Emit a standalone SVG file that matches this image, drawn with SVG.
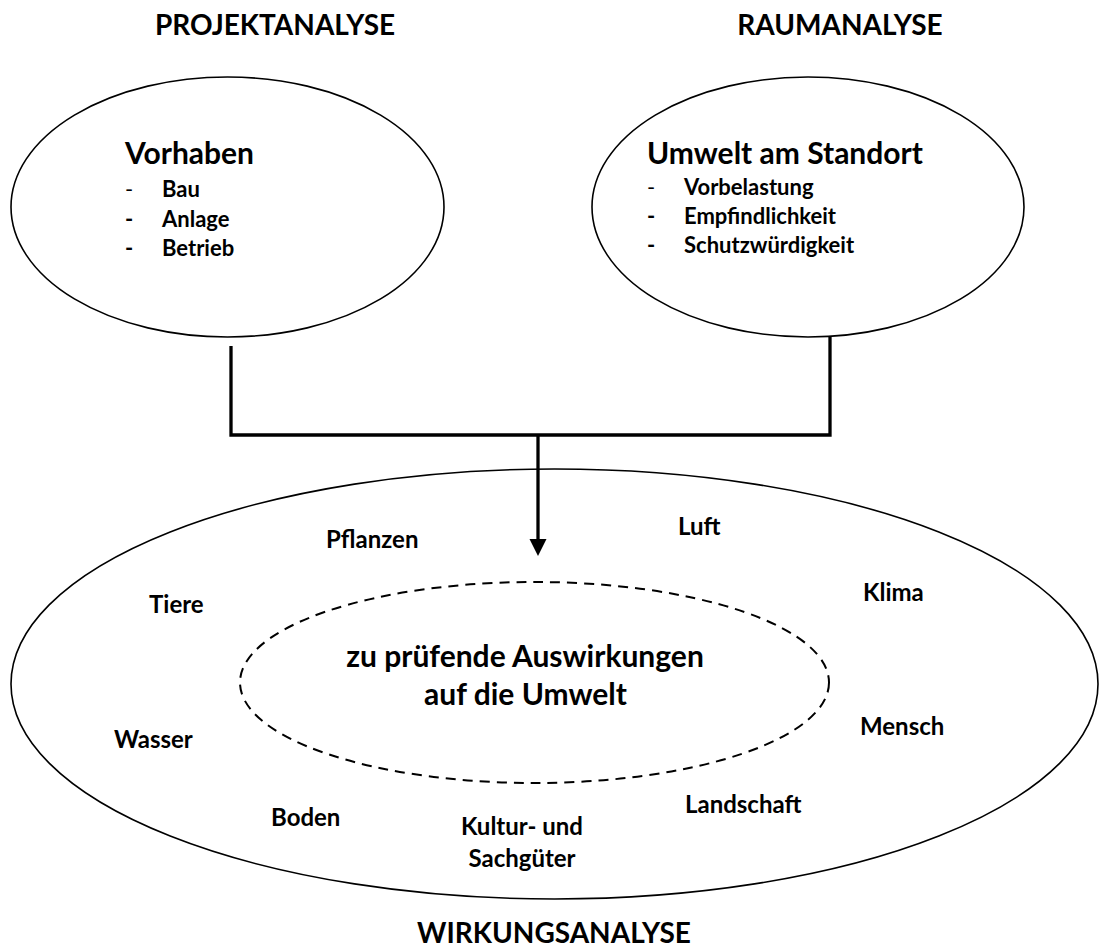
<svg xmlns="http://www.w3.org/2000/svg" width="1099" height="948" viewBox="0 0 1099 948">
<style>
  text { font-family: Lato, "Open Sans", "Liberation Sans", sans-serif; font-weight: bold; fill: #000; }
  .title { font-size: 28px; text-anchor: middle; }
  .head { font-size: 30px; }
  .item { font-size: 22px; }
  .thin { font-weight: normal; }
  .lbl { font-size: 24px; }
  .center { font-size: 30px; text-anchor: middle; }
  .shape { fill: none; stroke: #000; stroke-width: 1.6; }
  .dashed { fill: none; stroke: #000; stroke-width: 2; stroke-dasharray: 10 7; }
  .conn { fill: none; stroke: #000; stroke-width: 3.3; }
</style>
<rect width="1099" height="948" fill="#fff"/>

<text class="title" x="275" y="35">PROJEKTANALYSE</text>
<text class="title" x="840" y="35">RAUMANALYSE</text>

<g id="vorhaben">
  <ellipse class="shape" cx="227.5" cy="207" rx="216.5" ry="130"/>
  <text class="head" x="125" y="164">Vorhaben</text>
  <text class="item thin" x="125" y="197">-</text>
  <text class="item" x="162" y="197">Bau</text>
  <text class="item" x="125" y="227">-</text>
  <text class="item" x="162" y="227">Anlage</text>
  <text class="item" x="125" y="256">-</text>
  <text class="item" x="162" y="256">Betrieb</text>
</g>

<g id="umwelt">
  <ellipse class="shape" cx="808" cy="207" rx="216" ry="130"/>
  <text class="head" x="647" y="164">Umwelt am Standort</text>
  <text class="item thin" x="647" y="195">-</text>
  <text class="item" x="684" y="195">Vorbelastung</text>
  <text class="item" x="647" y="224">-</text>
  <text class="item" x="684" y="224">Empfindlichkeit</text>
  <text class="item" x="647" y="253">-</text>
  <text class="item" x="684" y="253">Schutzwürdigkeit</text>
</g>

<g id="connectors">
  <path class="conn" d="M231,346 V435 H830 V337"/>
  <line class="conn" x1="538" y1="435" x2="538" y2="541"/>
  <polygon points="529.5,539 546.5,539 538,556" fill="#000"/>
</g>

<g id="wirkung">
  <ellipse class="shape" cx="554.5" cy="684" rx="543.5" ry="215"/>
  <text class="lbl" x="326" y="548">Pflanzen</text>
  <text class="lbl" x="678" y="535">Luft</text>
  <text class="lbl" x="149" y="613">Tiere</text>
  <text class="lbl" x="863" y="601">Klima</text>
  <text class="lbl" x="114" y="748">Wasser</text>
  <text class="lbl" x="860" y="735">Mensch</text>
  <text class="lbl" x="271" y="826">Boden</text>
  <text class="lbl" x="685" y="813">Landschaft</text>
  <text class="lbl" x="522" y="835" text-anchor="middle">Kultur- und</text>
  <text class="lbl" x="522" y="867" text-anchor="middle">Sachgüter</text>
</g>

<g id="auswirkungen">
  <ellipse class="dashed" cx="534.5" cy="682.5" rx="294.5" ry="100.5"/>
  <text class="center" x="525" y="667">zu prüfende Auswirkungen</text>
  <text class="center" x="525.5" y="705">auf die Umwelt</text>
</g>

<text class="title" x="554" y="943">WIRKUNGSANALYSE</text>
</svg>
